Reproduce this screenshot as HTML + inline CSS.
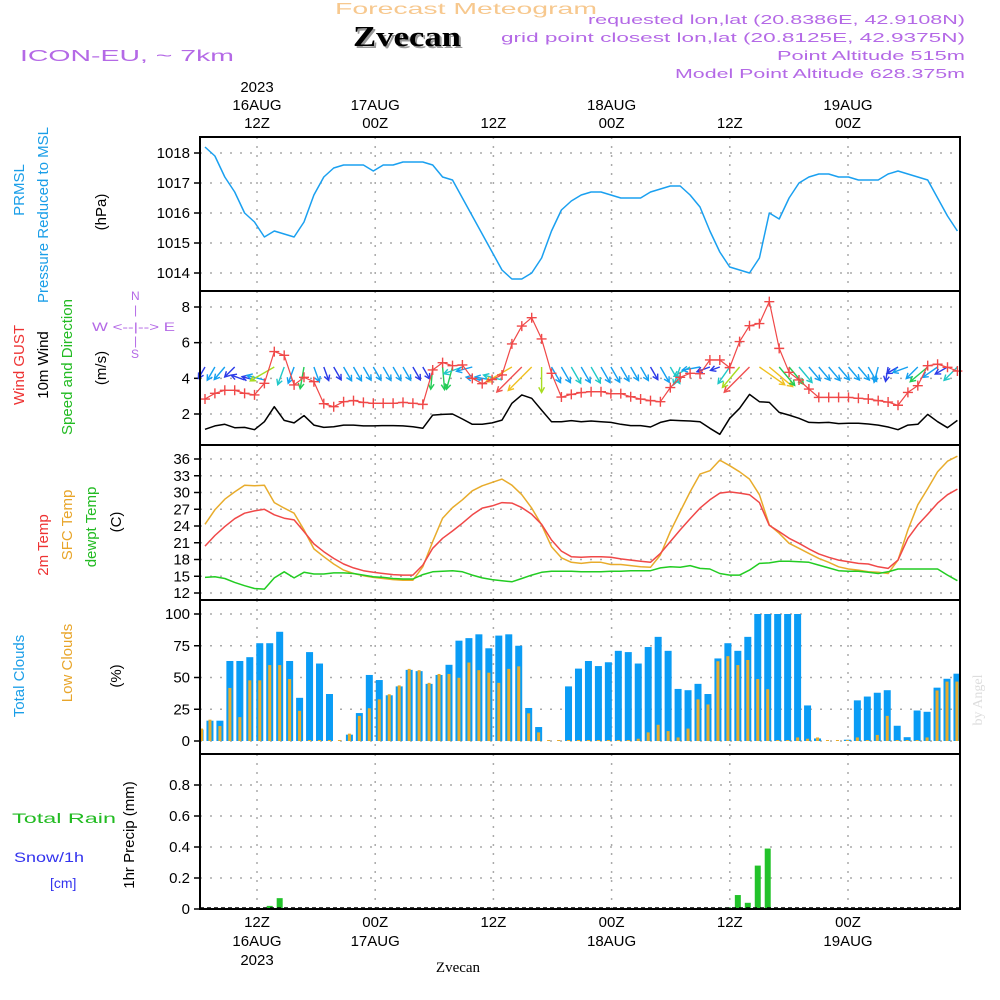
<!DOCTYPE html>
<html><head><meta charset="utf-8"><title>Meteogram Zvecan</title>
<style>
html,body{margin:0;padding:0;background:#fff;}
svg{display:block;font-family:"Liberation Sans",sans-serif;}
.tk{font-size:15px;fill:#000;}
.hd{font-size:13px;fill:#b469e6;}
</style></head><body>
<svg id="chart" width="1000" height="1000" viewBox="0 0 1000 1000">
<rect x="0" y="0" width="1000" height="1000" fill="#fff"/>
<text x="335" y="14" font-size="16" fill="#f7c88e" textLength="262" lengthAdjust="spacingAndGlyphs">Forecast Meteogram</text>
<text x="355" y="48" font-size="28" font-weight="bold" font-family="Liberation Serif,serif" fill="#999" textLength="108" lengthAdjust="spacingAndGlyphs">Zvecan</text>
<text x="353" y="46" font-size="28" font-weight="bold" font-family="Liberation Serif,serif" fill="#000" textLength="108" lengthAdjust="spacingAndGlyphs">Zvecan</text>
<text x="20" y="61" font-size="16" fill="#b469e6" textLength="214" lengthAdjust="spacingAndGlyphs">ICON-EU, ~ 7km</text>
<text x="588" y="24" class="hd" textLength="377" lengthAdjust="spacingAndGlyphs">requested lon,lat (20.8386E, 42.9108N)</text>
<text x="501" y="42" class="hd" textLength="464" lengthAdjust="spacingAndGlyphs">grid point closest lon,lat (20.8125E, 42.9375N)</text>
<text x="777" y="60" class="hd" textLength="188" lengthAdjust="spacingAndGlyphs">Point Altitude 515m</text>
<text x="675" y="78" class="hd" textLength="290" lengthAdjust="spacingAndGlyphs">Model Point Altitude 628.375m</text>

<text transform="translate(24,190) rotate(-90)" text-anchor="middle" font-size="15" fill="#1a9ee8">PRMSL</text>
<text transform="translate(48,215) rotate(-90)" text-anchor="middle" font-size="15" fill="#1a9ee8">Pressure Reduced to MSL</text>
<text transform="translate(106,212) rotate(-90)" text-anchor="middle" font-size="15" fill="#000">(hPa)</text>
<text transform="translate(24,365) rotate(-90)" text-anchor="middle" font-size="15" fill="#ee3333">Wind GUST</text>
<text transform="translate(48,365) rotate(-90)" text-anchor="middle" font-size="15" fill="#000">10m Wind</text>
<text transform="translate(72,367) rotate(-90)" text-anchor="middle" font-size="15" fill="#22bb22">Speed and Direction</text>
<text transform="translate(106,368) rotate(-90)" text-anchor="middle" font-size="15" fill="#000">(m/s)</text>
<g fill="#b469e6" font-size="12">
<text x="131" y="300">N</text><text x="134" y="314">|</text>
<text x="92" y="331" textLength="83" lengthAdjust="spacingAndGlyphs">W &lt;--|--&gt; E</text>
<text x="134" y="345">|</text><text x="131" y="358">S</text>
</g>
<text transform="translate(48,545) rotate(-90)" text-anchor="middle" font-size="15" fill="#ee3333">2m Temp</text>
<text transform="translate(72,525) rotate(-90)" text-anchor="middle" font-size="15" fill="#e8a52a">SFC Temp</text>
<text transform="translate(96,527) rotate(-90)" text-anchor="middle" font-size="15" fill="#22bb22">dewpt Temp</text>
<text transform="translate(121,522) rotate(-90)" text-anchor="middle" font-size="15" fill="#000">(C)</text>
<text transform="translate(24,676) rotate(-90)" text-anchor="middle" font-size="15" fill="#1a9ee8">Total Clouds</text>
<text transform="translate(72,663) rotate(-90)" text-anchor="middle" font-size="15" fill="#e8a52a">Low Clouds</text>
<text transform="translate(121,676) rotate(-90)" text-anchor="middle" font-size="15" fill="#000">(%)</text>
<text x="12" y="823" font-size="14" fill="#22bb22" textLength="104" lengthAdjust="spacingAndGlyphs">Total  Rain</text>
<text x="14" y="862" font-size="14" fill="#3333ee" textLength="70" lengthAdjust="spacingAndGlyphs">Snow/1h</text>
<text x="50" y="888" font-size="14" fill="#3333ee">[cm]</text>
<text transform="translate(134,835) rotate(-90)" text-anchor="middle" font-size="15" fill="#000">1hr Precip (mm)</text>
<text transform="translate(982,700) rotate(-90)" text-anchor="middle" font-size="14" font-family="Liberation Serif,serif" fill="#ddd">by Angel</text>
<text x="458" y="972" font-size="15" font-family="Liberation Serif,serif" text-anchor="middle" fill="#000">Zvecan</text>
<g id="plot"></g>
</svg>
<script>
const hourStart = 6;
const pressure = [1018.2,1017.9,1017.2,1016.7,1016.0,1015.7,1015.2,1015.4,1015.3,1015.2,1015.7,1016.6,1017.2,1017.5,1017.6,1017.6,1017.6,1017.4,1017.6,1017.6,1017.7,1017.7,1017.7,1017.6,1017.2,1017.1,1016.5,1015.9,1015.3,1014.7,1014.1,1013.8,1013.8,1014.0,1014.5,1015.4,1016.1,1016.4,
1016.6,1016.7,1016.7,1016.6,1016.5,1016.5,1016.5,1016.7,1016.8,1016.9,1016.9,1016.6,1016.2,1015.4,1014.7,1014.2,1014.1,1014.0,1014.5,1016.0,1015.8,1016.5,1017.0,1017.2,1017.3,1017.3,1017.2,1017.2,1017.1,1017.1,1017.1,1017.3,1017.4,1017.3,1017.2,1017.1,1016.5,1015.9,1015.4];
const wind10 = [1.14,1.33,1.42,1.23,1.25,1.12,1.57,2.41,1.64,1.50,1.91,1.38,1.25,1.29,1.38,1.38,1.33,1.33,1.35,1.35,1.33,1.29,1.2,1.94,1.98,2.0,1.72,1.42,1.42,1.5,1.66,2.6,3.07,2.88,2.22,1.57,1.57,1.63,
1.57,1.61,1.57,1.53,1.42,1.35,1.35,1.27,1.53,1.66,1.63,1.61,1.57,1.20,0.86,1.76,2.32,3.10,2.69,2.65,2.09,1.94,1.76,1.53,1.51,1.53,1.46,1.48,1.48,1.44,1.38,1.27,1.12,1.38,1.42,1.98,1.57,1.23,1.64];
const gust = [2.84,3.16,3.33,3.33,3.16,3.07,3.72,5.5,5.29,3.63,4.06,3.81,2.58,2.41,2.69,2.75,2.65,2.6,2.6,2.6,2.65,2.6,2.54,4.47,4.88,4.71,4.75,4.0,3.7,3.93,4.19,5.93,6.93,7.4,6.21,4.28,2.95,3.1,
3.2,3.25,3.25,3.14,3.14,2.97,2.84,2.75,2.69,3.48,4.06,4.28,4.26,5.03,5.03,4.6,6.06,6.95,7.07,8.3,5.68,4.34,3.91,3.4,2.93,2.93,2.93,2.93,2.88,2.84,2.75,2.67,2.49,3.21,3.59,4.71,4.79,4.62,4.41];
const windDir = [210,210,220,225,290,285,285,240,200,200,190,160,160,150,150,150,150,150,150,150,150,150,150,185,175,195,250,255,280,280,285,240,225,225,180,150,150,150,
150,150,150,150,150,150,150,150,150,150,200,240,260,250,250,215,220,225,125,130,140,140,140,140,140,140,140,140,140,150,195,190,240,250,225,230,235,240,225];
const temp2m = [20.4,22.3,23.9,25.3,26.3,26.7,27.0,26.0,25.4,25.1,23.0,20.8,19.4,18.2,17.2,16.5,16.0,15.7,15.5,15.3,15.2,15.2,17.0,20.0,21.8,23.1,24.5,26.0,27.2,27.6,28.2,28.1,27.3,26.1,24.3,21.5,19.5,18.5,
18.4,18.5,18.5,18.4,18.1,17.9,17.7,17.5,19.1,21.2,23.3,25.3,27.2,28.7,29.9,30.1,29.9,29.6,28.2,24.1,23.0,21.8,20.9,19.9,19.0,18.4,17.9,17.6,17.3,17.2,16.7,16.4,17.9,21.8,24.2,26.1,28.1,29.6,30.6];
const tempSfc = [24.3,26.9,28.8,30.1,31.3,31.2,31.3,28.2,27.2,26.3,23.3,19.9,18.5,17.2,16.1,15.5,15.1,14.8,14.6,14.4,14.3,14.3,16.7,21.2,25.4,27.3,28.7,30.3,31.2,31.8,32.4,31.3,29.6,27.2,24.2,20.3,18.3,17.5,
17.3,17.5,17.5,17.1,17.1,16.9,16.7,16.6,18.8,23.0,26.6,30.1,33.3,33.9,35.8,34.8,33.7,32.4,29.6,24.2,22.7,20.9,20.0,19.1,18.2,17.5,16.7,16.3,16.1,15.8,15.7,15.5,17.9,23.3,27.8,30.7,33.7,35.6,36.5];
const dewpt = [14.8,14.9,14.6,13.9,13.3,12.8,12.7,14.7,15.8,14.7,15.7,15.4,15.4,15.6,15.6,15.5,15.2,14.9,14.8,14.6,14.5,14.5,15.3,15.8,15.9,16.0,15.8,15.2,14.7,14.4,14.2,14.0,14.6,15.2,15.7,15.9,15.9,15.9,
15.8,15.8,15.8,15.9,15.9,16.0,16.0,16.0,16.5,16.7,16.6,16.9,16.4,16.3,15.5,15.2,15.2,16.1,17.3,17.4,17.7,17.7,17.6,17.5,17.0,16.5,16.0,15.9,15.9,15.7,15.5,15.8,16.3,16.3,16.3,16.3,16.3,15.2,14.2];
const totalClouds = [9,16,16,63,63,66,77,77,86,63,34,70,61,37,0,5,22,52,48,36,43,56,55,45,52,60,79,81,84,73,83,84,75,26,11,0,0,43,57,63,
59,62,71,70,61,74,82,71,41,40,45,37,65,77,71,82,100,100,100,100,100,28,2,0,0,1,32,35,38,40,12,3,24,23,42,49,53];
const lowClouds = [9,16,11,41,18,47,47,59,59,48,23,0,0,0,0,5,19,25,32,36,43,56,55,45,52,52,49,61,55,53,45,56,58,21,6,0,0,0,0,0,
0,0,0,0,1,6,12,7,2,9,32,28,62,66,59,63,48,40,0,0,2,1,2,0,0,0,2,0,4,19,0,0,0,2,39,46,46];
const precip = [0,0,0,0,0,0,0,0.02,0.07,0,0,0,0,0,0,0,0,0,0,0,0,0,0,0,0,0,0,0,0,0,0,0,0,0,0,0,0,0,
0,0,0,0,0,0,0,0,0,0,0,0,0,0,0,0.01,0.09,0.04,0.28,0.39,0,0,0,0,0,0,0,0,0,0,0,0,0,0,0,0,0,0,0];
const pTicks = [1014,1015,1016,1017,1018];
const wTicks = [2,4,6,8];
const tTicks = [12,15,18,21,24,27,30,33,36];
const cTicks = [0,25,50,75,100];
const rTicks = [0,0.2,0.4,0.6,0.8];
const timeHours = [12,24,36,48,60,72];
const topLabels = [["2023","16AUG","12Z"],["","17AUG","00Z"],["","","12Z"],["","18AUG","00Z"],["","","12Z"],["","19AUG","00Z"]];
const botLabels = [["12Z","16AUG","2023"],["00Z","17AUG",""],["12Z","",""],["00Z","18AUG",""],["12Z","",""],["00Z","19AUG",""]];

const NS='http://www.w3.org/2000/svg';
const plot=document.getElementById('plot');
const X0=200,X1=960;
const xLine = h => 205 + (h-hourStart)*9.9;
const xBar = h => 200 + (h-hourStart)*9.96;
const xTime = h => 257 + (h-12)*9.85;
const lin=(v0,y0,v1,y1)=>v=>y0+(v-v0)*(y1-y0)/(v1-v0);
const yP=lin(1014,273,1018,153);
const yW=lin(2,414,8,307);
const yT=lin(12,593,36,459);
const yC=lin(0,741,100,614);
const yR=lin(0,909,0.8,785);
const panels=[[137,291],[291,445],[445,600],[600,754],[754,909]];
function mk(tag,attrs,parent){const e=document.createElementNS(NS,tag);for(const k in attrs)e.setAttribute(k,attrs[k]);(parent||plot).appendChild(e);return e;}

function yAxis(ticks,sc,fmt,name){
  ticks.forEach(t=>{
    const y=sc(t);
    const g=mk('line',{x1:X0,x2:X1,y1:y,y2:y,stroke:'#aaa','stroke-width':1.5,'stroke-dasharray':'2,8'});
    
    
    const tk=mk('line',{x1:X0-6,x2:X0,y1:y,y2:y,stroke:'#000','stroke-width':1.5});
    
    
    const tx=mk('text',{x:X0-10,y:y+5,'text-anchor':'end',class:'tk'});
    tx.textContent=fmt(t);
    
    
  });
}
yAxis(pTicks,yP,t=>t,'pressure-axis');
yAxis(wTicks,yW,t=>t,'wind-axis');
yAxis(tTicks,yT,t=>t,'temp-axis');
yAxis(cTicks,yC,t=>t,'cloud-axis');
yAxis(rTicks,yR,t=>t===0?'0':t.toFixed(1),'precip-axis');
timeHours.forEach((h,i)=>{
  const x=xTime(h);
  panels.forEach(p=>{
    const v=mk('line',{x1:x,x2:x,y1:p[0],y2:p[1],stroke:'#aaa','stroke-width':1.5,'stroke-dasharray':'2,7'});
    
    
  });
  topLabels[i].forEach((s,j)=>{ if(!s)return;
    const t=mk('text',{x:x,y:92+j*18,'text-anchor':'middle',class:'tk'});t.textContent=s;
    
    
  });
  botLabels[i].forEach((s,j)=>{ if(!s)return;
    const t=mk('text',{x:x,y:927+j*19,'text-anchor':'middle',class:'tk'});t.textContent=s;
    
    
  });
});

totalClouds.forEach((v,i)=>{
  const h=hourStart+i,x=xBar(h);
  if(v>0){const r=mk('rect',{x:Math.max(X0,x-3.5),y:yC(v),width:7-(Math.max(X0,x-3.5)-(x-3.5)),height:yC(0)-yC(v),fill:'#0a9cf5'});
  
  }
  const lv=lowClouds[i];
  const lr=mk('rect',{x:Math.max(X0,x-1.5),y:yC(lv)-1,width:3,height:yC(0)-yC(lv)+1,fill:'#e8ac2c'});
  
  
});
precip.forEach((v,i)=>{
  if(v<=0)return;
  const x=xBar(hourStart+i);
  const r=mk('rect',{x:x-3,y:yR(v),width:6,height:yR(0)-yR(v),fill:'#22c22a'});
  
  
});
const sl=mk('line',{x1:X0,x2:X1,y1:908,y2:908,stroke:'#000','stroke-width':1.5,'stroke-dasharray':'4,3'});



function series(arr,sc,color,name,w){
  const pts=arr.map((v,i)=>xLine(hourStart+i).toFixed(1)+','+sc(v).toFixed(1)).join(' ');
  const p=mk('polyline',{points:pts,fill:'none',stroke:color,'stroke-width':w||1.5,'stroke-linejoin':'round'});
  
  
  return p;
}
series(pressure,yP,'#1aa0f0','pressure-line');
series(tempSfc,yT,'#e8ac2c','sfc-temp-line');
series(temp2m,yT,'#f04848','temp-2m-line');
series(dewpt,yT,'#22cc22','dewpt-line');
series(wind10,yW,'#000','wind-speed-line');

function wcol(s){if(s<1.3)return'#2a3ae8';if(s<1.6)return'#14a0f0';if(s<1.8)return'#20c8c8';if(s<2.2)return'#22cc55';if(s<2.6)return'#a8dd20';if(s<2.9)return'#f0c020';if(s<3.05)return'#ee9a22';return'#f05050';}
windDir.forEach((d,i)=>{
  const h=hourStart+i,s=wind10[i];
  const len=s*11.5,a=d*Math.PI/180;
  const dx=Math.sin(a)*len,dy=-Math.cos(a)*len;
  let x0=xLine(h),y0=367;
  if(dy<0) y0=380;
  const x1=x0+dx,y1=y0+dy,c=wcol(s);
  const hl=6,ang=Math.atan2(dy,dx);
  const g=mk('g',{stroke:c,'stroke-width':1.4,fill:'none'});
  
  
  mk('line',{x1:x0,y1:y0,x2:x1,y2:y1},g);
  mk('polyline',{points:`${x1-hl*Math.cos(ang-0.5)},${y1-hl*Math.sin(ang-0.5)} ${x1},${y1} ${x1-hl*Math.cos(ang+0.5)},${y1-hl*Math.sin(ang+0.5)}`},g);
});
series(gust,yW,'#f04848','gust-line',1.2);
gust.forEach((v,i)=>{
  const x=xLine(hourStart+i),y=yW(v);
  const m=mk('path',{d:`M${x-5},${y}H${x+5}M${x},${y-5}V${y+5}`,stroke:'#f04848','stroke-width':1.4});
  
  
});
panels.forEach((p,i)=>{
  const r=mk('rect',{x:X0,y:p[0],width:X1-X0,height:p[1]-p[0],fill:'none',stroke:'#000','stroke-width':2});
  
  
});
</script>
</body></html>
